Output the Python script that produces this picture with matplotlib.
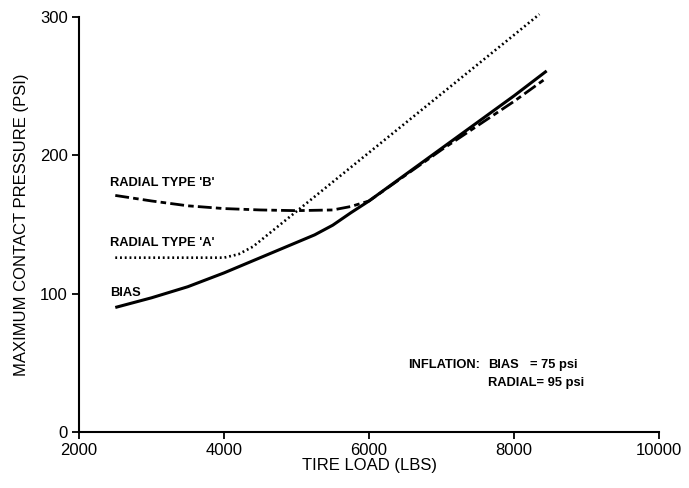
import matplotlib.pyplot as plt

# Tire load (lbs) vs maximum contact pressure (psi)
bias_load = [2500, 3000, 3500, 4000, 4500, 5000, 5250, 5500, 5750, 6000, 7000, 8000, 8450]
bias_psi = [90, 97, 105, 115, 126, 137, 142.5, 149.5, 158.5, 167, 205, 243, 261]

radial_a_load = [2500, 3000, 3500, 4000, 4200, 4400, 5000, 6000, 7000, 8000, 8350]
radial_a_psi = [126, 126, 126, 126, 128.5, 134, 159.5, 202, 244.5, 287, 302]

radial_b_load = [2500, 3000, 3500, 4000, 4500, 5000, 5500, 5750, 6000, 7000, 8000, 8450]
radial_b_psi = [171, 167, 163.5, 161.5, 160.5, 160, 160.5, 163, 167, 204, 239, 256]

x_ticks = [2000, 4000, 6000, 8000, 10000]
y_ticks = [0, 100, 200, 300]

tick_font = ['Liberation Sans', 'DejaVu Sans']
note_font = ['Liberation Sans Narrow', 'Liberation Sans', 'DejaVu Sans']

fig = plt.figure(figsize=(6.89, 4.88), dpi=100)
ax = fig.add_axes([0.1147, 0.1148, 0.8418, 0.8504])

ax.plot(bias_load, bias_psi, color='black', lw=2.2, solid_capstyle='butt', clip_on=False)
ax.plot(radial_a_load, radial_a_psi, color='black', lw=1.9,
        linestyle=(0, (0.7, 1.1)), clip_on=False)
ax.plot(radial_b_load, radial_b_psi, color='black', lw=2.0,
        linestyle=(0, (5, 1.5, 2, 1.5)), clip_on=False)

ax.set_xlim(2000, 10000)
ax.set_ylim(0, 300)
ax.set_xticks(x_ticks)
ax.set_yticks(y_ticks)
ax.tick_params(direction='out', length=5, width=1.3, labelsize=12, pad=3)
for lbl in ax.get_xticklabels() + ax.get_yticklabels():
    lbl.set_family(tick_font)

for side in ['top', 'right']:
    ax.spines[side].set_visible(False)
for side in ['left', 'bottom']:
    ax.spines[side].set_linewidth(1.5)

ax.set_xlabel('TIRE LOAD (LBS)', fontsize=12, family=tick_font, labelpad=0)
ax.set_ylabel('MAXIMUM CONTACT PRESSURE (PSI)', fontsize=12, family=tick_font, labelpad=8)

# curve names
lab = dict(fontsize=9.3, fontweight='bold', family=note_font, va='center', ha='left')
ax.text(2430, 180, "RADIAL TYPE 'B'", **lab)
ax.text(2430, 136.5, "RADIAL TYPE 'A'", **lab)
ax.text(2430, 100.5, 'BIAS', **lab)

# inflation note
ax.text(6540, 48.4, 'INFLATION:', **lab)
ax.text(7640, 48.4, 'BIAS', **lab)
ax.text(8880, 48.4, '= 75 psi', fontsize=9.3, fontweight='bold', family=note_font,
        va='center', ha='right')
ax.text(7640, 35.4, 'RADIAL= 95 psi', **lab)

plt.savefig('out.png', dpi=100)
